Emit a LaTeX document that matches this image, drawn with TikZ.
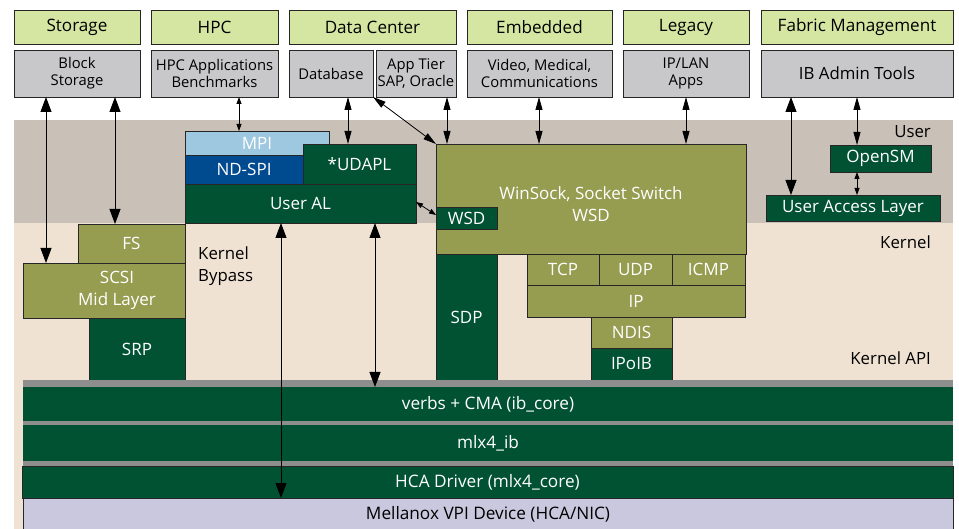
\documentclass[tikz,border=0pt]{standalone}
\usepackage{fontspec}
\setmainfont{Open Sans}
\usetikzlibrary{arrows.meta}
\definecolor{topgreen}{HTML}{D4E6A1}
\definecolor{boxgray}{HTML}{C8C8CA}
\definecolor{userband}{HTML}{C9C0B8}
\definecolor{kernband}{HTML}{EFE2D2}
\definecolor{olv}{HTML}{969C50}
\definecolor{dkg}{HTML}{005232}
\definecolor{mpiblue}{HTML}{9EC7E0}
\definecolor{ndblue}{HTML}{004A90}
\definecolor{strip}{HTML}{8E8E8E}
\definecolor{vpi}{HTML}{C9C8DE}
\newcommand\bx[7]{\node[#6, minimum width={(#4-#2)*1pt}, minimum height={(#5-#3)*1pt}, anchor=north west] (#1) at (#2,#3) {#7};}
\tikzset{
  base/.style={draw=black!85, line width=0.8pt, inner sep=0pt, outer sep=0pt, align=center},
  appbox/.style={base, fill=topgreen, font=\fontsize{17.1}{18}\selectfont},
  toolbox/.style={base, fill=boxgray, font=\fontsize{14.8}{17}\selectfont},
  olvbox/.style={base, fill=olv, text=white, font=\fontsize{17}{22}\selectfont},
  dkgbox/.style={base, fill=dkg, text=white, font=\fontsize{17}{22}\selectfont},
  layerbox/.style={inner sep=0pt, outer sep=0pt, fill=dkg, text=white, font=\fontsize{17.2}{18}\selectfont},
  lbl/.style={inner sep=0pt, font=\fontsize{16.8}{22}\selectfont, align=left},
  wtxt/.style={inner sep=0pt, text=white, align=center, font=\fontsize{17}{22}\selectfont},
  big/.style={line width=0.8pt, {Triangle[width=11pt,length=15pt]}-{Triangle[width=11pt,length=15pt]}},
  med/.style={line width=0.8pt, {Triangle[width=7pt,length=13pt]}-{Triangle[width=7pt,length=13pt]}},
  sml/.style={line width=0.8pt, {Triangle[width=5pt,length=7pt]}-{Triangle[width=5pt,length=7pt]}},
}
\begin{document}
\begin{tikzpicture}[x=1pt,y=-1pt]
\useasboundingbox (0,0) rectangle (959,529);
\fill[white] (0,0) rectangle (959,529);
% bands
\fill[userband] (14,120) rectangle (953,223);
\fill[kernband] (14,223) rectangle (953,529);
\node[lbl, anchor=east] (luser) at (931,132) {User};
\node[lbl, anchor=east] (lkern) at (931,242) {Kernel};
\node[lbl, anchor=east] (lkapi) at (931,358) {Kernel API};
\node[lbl, anchor=north west] (lbyp) at (198,247) {Kernel\\Bypass};
% top application row
\bx{storage}{14}{10}{140}{44}{appbox}{Storage}
\bx{hpc}{151}{10}{278}{44}{appbox}{HPC}
\bx{dc}{289}{10}{456}{44}{appbox}{Data Center}
\bx{emb}{467}{10}{612}{44}{appbox}{Embedded}
\bx{leg}{623}{10}{749}{44}{appbox}{Legacy}
\bx{fab}{761}{10}{953}{44}{appbox}{Fabric Management}
% tools row
\bx{bs}{14}{50}{140}{97}{toolbox}{Block\\Storage}
\bx{hpca}{151}{50}{278}{97}{toolbox}{HPC Applications\\Benchmarks}
\bx{db}{289}{50}{373}{97}{toolbox}{Database}
\bx{at}{376}{50}{456}{97}{toolbox}{App Tier\\SAP, Oracle}
\bx{vid}{467}{50}{612}{97}{toolbox}{Video, Medical,\\Communications}
\bx{ipl}{623}{50}{749}{97}{toolbox}{IP/LAN\\Apps}
\bx{iba}{761}{50}{953}{97}{toolbox, font=\fontsize{16.8}{18}\selectfont}{IB Admin Tools}
% user space stack
\bx{mpi}{185}{131}{329}{155}{base, fill=mpiblue, text=white, font=\fontsize{17}{19}\selectfont}{MPI}
\bx{ndspi}{185}{155}{303}{184}{base, fill=ndblue, text=white, font=\fontsize{17}{19}\selectfont}{ND-SPI}
\bx{udapl}{303}{144}{416}{184}{dkgbox}{*UDAPL}
\bx{ual}{185}{184}{416}{223}{dkgbox}{User AL}
\bx{ws}{436}{144}{746}{254}{olvbox}{}
\node[wtxt] (wstxt) at (591,204) {WinSock, Socket Switch\\WSD};
\bx{wsd}{436}{207}{497}{229}{dkgbox}{WSD}
\bx{opensm}{830}{145}{931}{172}{dkgbox}{OpenSM}
\bx{uacl}{766}{195}{940}{221}{dkgbox}{User Access Layer}
% storage column
\bx{fs}{78}{224}{185}{263}{olvbox}{FS}
\bx{scsi}{23}{263}{185}{318}{olvbox}{}
\node[wtxt] (scsitxt) at (117,290) {SCSI\\Mid Layer};
\bx{srp}{89}{318}{185}{380}{dkgbox}{SRP}
% sockets column
\bx{sdp}{436}{254}{497}{380}{dkgbox}{SDP}
\bx{tcp}{527}{254}{599}{285}{olvbox}{TCP}
\bx{udp}{599}{254}{672}{285}{olvbox}{UDP}
\bx{icmp}{672}{254}{745}{285}{olvbox}{ICMP}
\bx{ip}{527}{285}{745}{317}{olvbox}{IP}
\bx{ndis}{591}{317}{672}{348}{olvbox}{NDIS}
\bx{ipoib}{591}{348}{672}{380}{dkgbox}{IPoIB}
% kernel layers
\fill[strip] (23,380) rectangle (953,387);
\bx{verbs}{23}{387}{953}{421}{layerbox}{verbs + CMA (ib\_core)}
\fill[strip] (23,421) rectangle (953,425);
\bx{mlx}{23}{425}{953}{461}{layerbox}{mlx4\_ib}
\fill[strip] (23,461) rectangle (953,466);
\bx{hca}{22}{466}{953}{498}{base, fill=dkg, text=white, font=\fontsize{17.2}{18}\selectfont}{HCA Driver (mlx4\_core)}
\bx{dev}{23}{498}{953}{531}{base, fill=vpi, font=\fontsize{17.2}{18}\selectfont}{Mellanox VPI Device (HCA/NIC)}
% connectors
\draw[big] (46,0 |- bs.south) -- (46,0 |- scsi.north);
\draw[big] (115,0 |- bs.south) -- (115,0 |- fs.north);
\draw[sml] (239,0 |- hpca.south) -- (239,0 |- mpi.north);
\draw[med] (348,0 |- db.south) -- (348,0 |- udapl.north);
\draw[med] (db.south east) -- (ws.north west);
\draw[med] (447,0 |- at.south) -- (447,0 |- ws.north);
\draw[med] (539,0 |- vid.south) -- (539,0 |- ws.north);
\draw[med] (686,0 |- ipl.south) -- (686,0 |- ws.north);
\draw[big] (791,0 |- iba.south) -- (791,0 |- uacl.north);
\draw[med] (857,0 |- iba.south) -- (857,0 |- opensm.north);
\draw[sml] (857,0 |- opensm.south) -- (857,0 |- uacl.north);
\draw[sml] (ual.east |- 0,202) -- (wsd.west |- 0,215);
\draw[big] (281,0 |- ual.south) -- (281,0 |- hca.south);
\draw[big] (375,0 |- ual.south) -- (375,0 |- verbs.north);
\end{tikzpicture}
\end{document}
